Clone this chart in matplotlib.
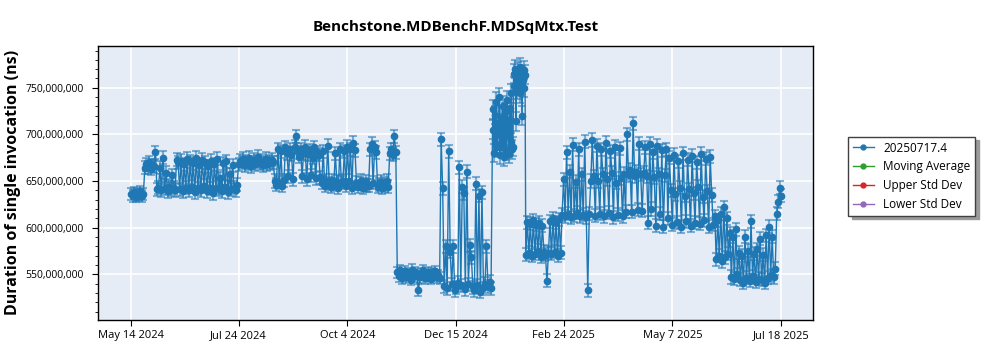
import numpy as np
import pandas as pd
import matplotlib
matplotlib.use('Agg')
import matplotlib.pyplot as plt
from matplotlib.lines import Line2D
from matplotlib.ticker import FuncFormatter, MultipleLocator

plt.rcParams['font.family'] = ['Open Sans', 'DejaVu Sans']

# results (millions of ns), one list per stretch of the history
may_2024 = [636, 634, 638, 633, 637, 635, 639, 634, 636]
late_may_2024 = [664, 668, 665, 670, 663, 667, 666, 681]
jun_jul_2024 = [641, 643, 664, 640, 675, 642, 659, 639, 644, 641, 656, 643, 640, 673,
                670, 641, 672, 639, 668, 643, 674, 640, 671, 644, 669, 638, 675, 642,
                667, 640, 673, 645, 670, 639, 666, 642, 672, 637, 668, 643, 674, 641,
                653, 639, 669, 644, 671, 638, 657, 641, 667, 643, 640, 646]
late_jul_2024 = [668, 672, 670, 674, 667, 671, 669, 675, 666, 670, 673, 668, 671, 676,
                 669, 672, 667, 670, 674, 668, 671, 669, 673, 670]
aug_sep_2024 = [650, 646, 684, 648, 682, 645, 651, 686,
                680, 655, 684, 678, 652, 687, 698, 681,
                676, 684, 655, 680, 687, 652, 679, 683, 656, 675, 686, 653, 681, 678, 654,
                648, 682, 645, 650, 688, 647, 644, 651, 646, 680, 649, 643, 684, 648, 650]
oct_2024 = [682, 645, 687, 650, 684, 643, 691, 683,
            648, 644, 647, 650, 643, 646, 649, 645,
            645, 684, 690, 648, 686, 681, 644,
            646, 649, 643, 647, 645, 650, 644,
            680, 684, 678, 698, 681]
nov_2024 = [552, 548, 554, 546, 550, 553, 547, 551, 549, 544, 555, 548, 552, 550, 533,
            547, 551, 554, 546, 549, 552, 548, 545, 551, 550, 553, 547, 549, 546]
dec_2024 = [695, 642, 537, 580, 535, 682, 574, 539, 580, 533, 536, 541, 665, 538, 644,
            637, 534, 660, 539, 581, 568, 536, 533, 647, 538, 634, 531, 638, 535, 540,
            580, 537, 542, 535]
# January had two runs a day
jan_2025 = [705, 727, 680, 721, 690, 735, 686, 712, 700, 740, 678, 718, 695, 687,
            731, 676, 709, 724, 683, 737, 698, 715, 679, 728, 692, 744, 684, 687,
            765, 752, 770, 714, 760, 748, 768, 755, 772, 744, 762, 720, 758, 769,
            750, 764]
feb_2025 = [571, 606, 573, 604, 570, 608, 572, 603, 575, 605, 569, 602, 574,
            571, 543, 573,
            607, 572, 610, 574, 605, 570, 609, 573]
mar_jul_2025 = [614, 652, 612, 681, 615, 660, 611, 689, 613, 649, 616, 684, 612, 657,
                614, 692, 611, 533, 615, 650,
                694, 655, 613, 688, 650, 615, 684, 657, 612, 691, 652, 616, 682, 659,
                611, 687, 648, 614, 685, 653, 612,
                658, 617, 700, 656, 662, 617, 712, 655, 660, 619, 690, 657, 618, 659,
                686, 655, 605, 690, 620, 681, 654, 602, 688, 657, 615, 683, 601, 656,
                684, 610,
                675, 640, 603, 678, 636, 606, 671, 643, 601, 680, 634, 607, 673, 641,
                602, 677, 637, 605, 670, 644, 604, 679, 633, 608, 674, 639, 601, 676,
                635, 603,
                612, 566, 608, 570, 615, 564, 622, 568, 610, 572,
                594, 547, 590, 545, 598, 550,
                573, 544, 570, 541, 590, 546, 575, 543, 607, 548, 572, 542, 577, 545,
                588, 544, 571, 541, 592, 546,
                601, 549, 590, 547, 556,
                615, 628, 643, 634]

seg_starts = ['2024-05-14', '2024-05-23', '2024-05-31', '2024-07-24', '2024-08-17',
              '2024-10-02', '2024-11-06', '2024-12-05', '2025-01-08', '2025-01-30',
              '2025-02-23']
seg_freq = ['D', 'D', 'D', 'D', 'D', 'D', 'D', 'D', '12h', 'D', 'D']
seg_values = [may_2024, late_may_2024, jun_jul_2024, late_jul_2024, aug_sep_2024,
              oct_2024, nov_2024, dec_2024, jan_2025, feb_2025, mar_jul_2025]
# typical std dev of each stretch (millions of ns)
seg_err = [6, 7, 7, 7, 7, 7, 6, 7, 10, 7, 7]

tick_dates = ['2024-05-14', '2024-07-24', '2024-10-04', '2024-12-15',
              '2025-02-24', '2025-05-07', '2025-07-18']
tick_labels = ['May 14 2024', 'Jul 24 2024', 'Oct 4 2024', 'Dec 15 2024',
               'Feb 24 2025', 'May 7 2025', 'Jul 18 2025']

dates, vals, errs = [], [], []
for start, fq, v, e in zip(seg_starts, seg_freq, seg_values, seg_err):
    dates.extend(pd.date_range(start, periods=len(v), freq=fq))
    vals.extend(v)
    errs.extend([e] * len(v))
vals = np.array(vals) * 1e6
errs = np.array(errs) * 1e6

blue = '#1f77b4'

fig = plt.figure(figsize=(10, 3.5), dpi=100)
ax = fig.add_axes([0.098, 0.086, 0.715, 0.783])
ax.set_facecolor('#e5ecf6')

ax.errorbar(dates, vals, yerr=errs, fmt='o-', color=blue, ms=4.5, lw=1.0,
            ecolor=(0.12, 0.47, 0.71, 0.55), elinewidth=1.6, capsize=3,
            capthick=1.5, zorder=3)

ax.set_xlim(pd.Timestamp('2024-04-22'), pd.Timestamp('2025-08-08'))
ax.set_ylim(501e6, 795e6)
ax.set_xticks(pd.to_datetime(tick_dates))
ax.set_xticklabels(tick_labels)
ax.yaxis.set_major_locator(MultipleLocator(50e6))
ax.yaxis.set_minor_locator(MultipleLocator(10e6))
ax.yaxis.set_major_formatter(FuncFormatter(lambda v, p: f'{v:,.0f}'))
ax.tick_params(axis='both', labelsize=8, length=4, color='black')
ax.tick_params(axis='y', labelsize=7.5, pad=6)
ax.tick_params(axis='y', which='minor', length=2)
ax.grid(True, color='white', lw=1.2, zorder=0)
ax.set_axisbelow(True)
for s in ax.spines.values():
    s.set_color('black')
    s.set_linewidth(1)

ax.set_title('Benchstone.MDBenchF.MDSqMtx.Test', fontsize=11, fontweight='bold', pad=11)
ax.set_ylabel('Duration of single invocation (ns)', fontsize=11.5, fontweight='bold')
ax.yaxis.set_label_coords(-0.108, 0.5)

handles = [
    Line2D([], [], color=blue, marker='o', ms=3.5, lw=1),
    Line2D([], [], color='#2ca02c', marker='o', ms=3.5, lw=1),
    Line2D([], [], color='#d62728', marker='o', ms=3.5, lw=1),
    Line2D([], [], color='#9467bd', marker='o', ms=3.5, lw=1),
]
leg = ax.legend(handles, ['20250717.4', 'Moving Average', 'Upper Std Dev', 'Lower Std Dev'],
                loc='upper left', bbox_to_anchor=(1.049, 0.668), borderaxespad=0,
                fontsize=8.5, fancybox=False, frameon=True, handlelength=1.8,
                shadow={'ox': 2.5, 'oy': -2.5, 'color': '#9a9a9a', 'alpha': 1})
leg.get_frame().set_edgecolor('#404040')
leg.get_frame().set_linewidth(1)

fig.savefig('out.png', dpi=100)
